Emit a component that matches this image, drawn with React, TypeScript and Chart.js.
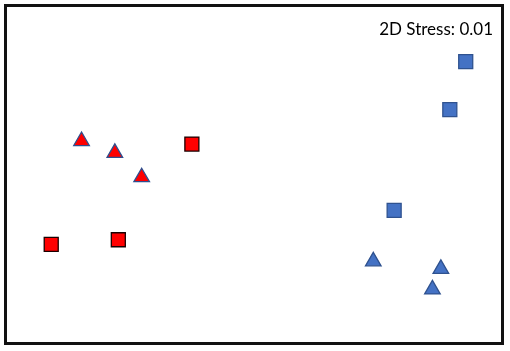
import React, { useEffect, useRef } from "react";
import { Chart, registerables } from "chart.js";

Chart.register(...registerables);

// NMDS ordination coordinates (arbitrary 0–100 units across the plot frame)
const redSquaresX = [37.5, 9.2, 22.7];
const redSquaresY = [59.0, 29.3, 30.7];
const redTrianglesX = [15.3, 22.0, 27.4];
const redTrianglesY = [59.9, 56.4, 49.2];
const blueSquaresX = [92.6, 89.4, 78.2];
const blueSquaresY = [83.4, 69.2, 39.4];
const blueTrianglesX = [74.0, 87.6, 85.9];
const blueTrianglesY = [24.3, 22.1, 16.0];
const stressLabel = "2D Stress: 0.01";

const toPts = (xs: number[], ys: number[]) => xs.map((x, i) => ({ x, y: ys[i] }));

const framePlugin = {
  id: "frame",
  afterDraw(chart: any) {
    const { ctx, chartArea } = chart;
    ctx.save();
    ctx.strokeStyle = "#111";
    ctx.lineWidth = 3;
    ctx.strokeRect(chartArea.left, chartArea.top, chartArea.right - chartArea.left, chartArea.bottom - chartArea.top);
    ctx.fillStyle = "#000";
    ctx.font = "17px Lato, 'Open Sans', sans-serif";
    ctx.textAlign = "right";
    ctx.textBaseline = "alphabetic";
    ctx.fillText(stressLabel, chartArea.right - 9.5, chartArea.top + 29.5);
    ctx.restore();
  },
};

export default function App() {
  const ref = useRef<HTMLCanvasElement>(null);
  useEffect(() => {
    if (!ref.current) return;
    const red = "#FF0000";
    const blue = "#4472C4";
    const chart = new Chart(ref.current, {
      type: "scatter",
      data: {
        datasets: [
          {
            label: "Red squares",
            data: toPts(redSquaresX, redSquaresY),
            pointStyle: "rect",
            pointRadius: 9.9,
            backgroundColor: red,
            borderColor: "#1a0000",
            borderWidth: 1.3,
          },
          {
            label: "Red triangles",
            data: toPts(redTrianglesX, redTrianglesY),
            pointStyle: "triangle",
            pointRadius: 9,
            backgroundColor: red,
            borderColor: "#2F4F8F",
            borderWidth: 1.3,
          },
          {
            label: "Blue squares",
            data: toPts(blueSquaresX, blueSquaresY),
            pointStyle: "rect",
            pointRadius: 9.9,
            backgroundColor: blue,
            borderColor: "#2F528F",
            borderWidth: 1.3,
          },
          {
            label: "Blue triangles",
            data: toPts(blueTrianglesX, blueTrianglesY),
            pointStyle: "triangle",
            pointRadius: 9,
            backgroundColor: blue,
            borderColor: "#2F528F",
            borderWidth: 1.3,
          },
        ],
      },
      options: {
        animation: false,
        responsive: true,
        maintainAspectRatio: false,
        layout: { autoPadding: false, padding: { left: 5.5, right: 7.5, top: 5.5, bottom: 7.5 } },
        plugins: { legend: { display: false }, tooltip: { enabled: false } },
        scales: {
          x: { type: "linear", min: 0, max: 100, display: false },
          y: { type: "linear", min: 0, max: 100, display: false },
        },
      },
      plugins: [framePlugin],
    });
    return () => chart.destroy();
  }, []);
  return (
    <div style={{ position: "fixed", left: 0, top: 0, width: 510, height: 351, background: "#fff" }}>
      <canvas ref={ref} />
    </div>
  );
}
